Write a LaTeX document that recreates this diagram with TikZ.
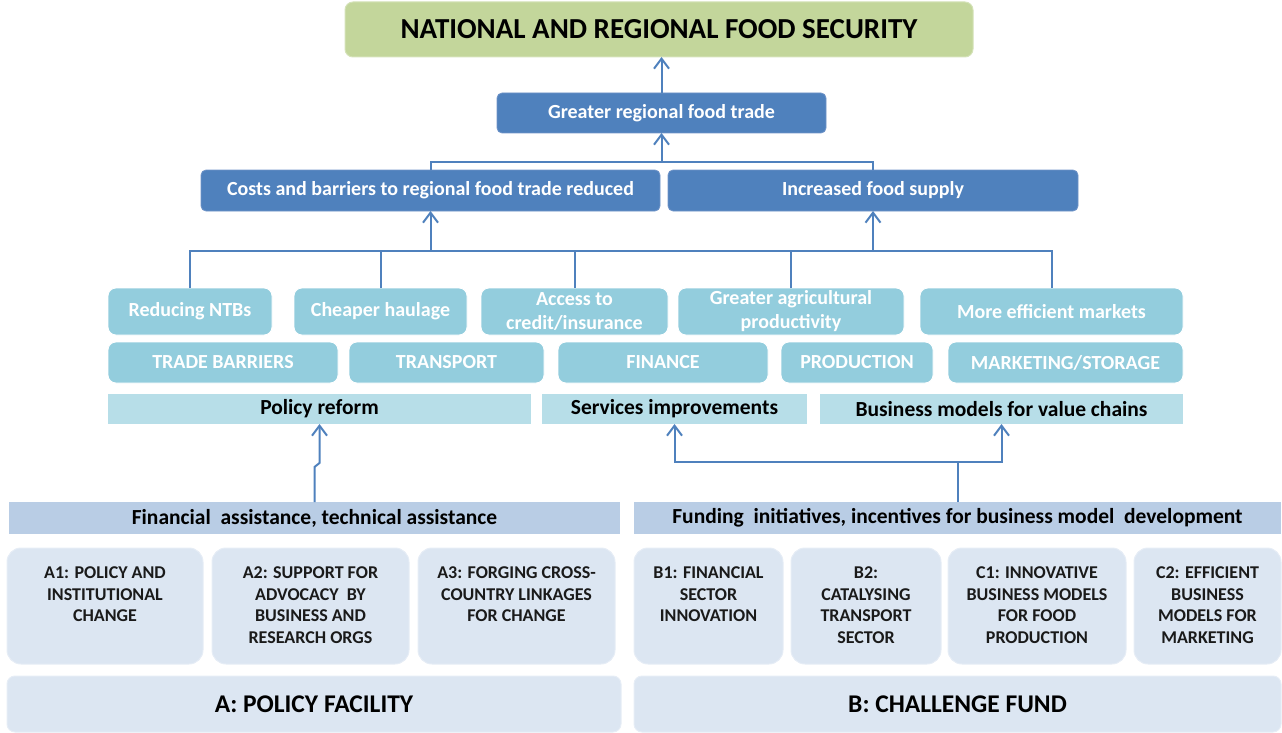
\documentclass[tikz,border=0pt]{standalone}
\usepackage{fontspec}
\setmainfont{Carlito}
\usetikzlibrary{arrows.meta}
\definecolor{dblue}{HTML}{4F81BD}
\definecolor{dbluebd}{HTML}{7094C8}
\definecolor{tealf}{HTML}{93CDDD}
\definecolor{pillf}{HTML}{B7DEE8}
\definecolor{barf}{HTML}{B9CDE5}
\definecolor{actf}{HTML}{DCE6F2}
\definecolor{actbd}{HTML}{E6EDF6}
\definecolor{greenf}{HTML}{C3D69B}
\definecolor{greenbd}{HTML}{D4E2B8}
\definecolor{conncol}{HTML}{4F81BD}
\definecolor{acttxt}{HTML}{1A1A1A}
\tikzset{
  base/.style={inner sep=0pt, outer sep=0pt, align=center, font=\bfseries},
  titlebox/.style={base, fill=greenf, draw=greenbd, line width=1pt, rounded corners=8pt,
    font=\fontsize{29}{33}\selectfont\bfseries},
  bluebox/.style={base, fill=dblue, draw=dbluebd, line width=0.8pt, rounded corners=5pt, text=white,
    font=\fontsize{20}{24}\selectfont\bfseries},
  outbox/.style={base, fill=tealf, draw=white, line width=0.8pt, rounded corners=8pt, text=white,
    font=\fontsize{20}{24}\selectfont\bfseries},
  catbox/.style={base, fill=tealf, draw=white, line width=0.8pt, rounded corners=8pt, text=white,
    font=\fontsize{20}{24}\selectfont\bfseries},
  pillbox/.style={base, fill=pillf, font=\fontsize{21.5}{24}\selectfont\bfseries},
  barbox/.style={base, fill=barf, font=\fontsize{21.5}{24}\selectfont\bfseries},
  actbox/.style={base, fill=actf, draw=actbd, line width=1pt, rounded corners=14pt},
  acttext/.style={base, anchor=north, text=acttxt, font=\fontsize{18}{21.5}\selectfont\bfseries},
  fundbox/.style={base, fill=actf, draw=actbd, line width=1pt, rounded corners=8pt,
    font=\fontsize{25.5}{29}\selectfont\bfseries},
  conn/.style={draw=conncol, line width=2pt},
  arr/.style={conn, -{Straight Barb[length=10pt,width=15pt,line width=2pt]}},
}
\begin{document}
\begin{tikzpicture}[x=1pt,y=-1pt]
\useasboundingbox (0,0) rectangle (1282,733);

% top
\node[titlebox, minimum width=628pt, minimum height=55pt] (title) at (659,29.5) {NATIONAL AND REGIONAL FOOD SECURITY};
\node[bluebox, minimum width=329pt, minimum height=40pt] (trade) at (661.5,113) {Greater regional food trade};
\node[bluebox, minimum width=459pt, minimum height=41pt] (costs) at (430.5,190.5) {Costs and barriers to regional food trade reduced};
\node[bluebox, minimum width=410pt, minimum height=41pt] (supply) at (873,190.5) {Increased food supply};

% outcomes
\node[outbox, minimum width=164pt, minimum height=47pt] (ntb) at (190,311.5) {Reducing NTBs};
\node[outbox, minimum width=173pt, minimum height=47pt] (haul) at (380.5,311.5) {Cheaper haulage};
\node[outbox, minimum width=187pt, minimum height=47pt] (credit) at (574.5,311.5) {Access to\\credit/insurance};
\node[outbox, minimum width=226pt, minimum height=47pt] (agri) at (791,311.5) {Greater agricultural\\productivity};
\node[outbox, minimum width=263pt, minimum height=47pt] (mkt) at (1051.5,311.5) {More efficient markets};

% categories
\node[catbox, minimum width=230pt, minimum height=41pt] (tb) at (223,362.5) {TRADE BARRIERS};
\node[catbox, minimum width=195pt, minimum height=41pt] (tr) at (446.5,362.5) {TRANSPORT};
\node[catbox, minimum width=210pt, minimum height=41pt] (fin) at (663,362.5) {FINANCE};
\node[catbox, minimum width=152pt, minimum height=41pt] (prod) at (857,362.5) {PRODUCTION};
\node[catbox, minimum width=235pt, minimum height=41pt] (ms) at (1065.5,362.5) {MARKETING/STORAGE};

% pillars
\node[pillbox, minimum width=423pt, minimum height=30pt] (pol) at (319.5,409) {Policy reform};
\node[pillbox, minimum width=265pt, minimum height=30pt] (svc) at (674.5,409) {Services improvements};
\node[pillbox, minimum width=363pt, minimum height=30pt] (bm) at (1001.5,409) {Business models for value chains};

% bars
\node[barbox, minimum width=611pt, minimum height=32pt] (fa) at (314.5,518) {Financial\ \ assistance, technical assistance};
\node[barbox, minimum width=647pt, minimum height=32pt] (fu) at (957.5,518) {Funding\ \ initiatives, incentives for business model\ \ development};

% activities
\node[actbox, minimum width=196pt, minimum height=116pt] (a1) at (105,606) {};
\node[actbox, minimum width=197pt, minimum height=116pt] (a2) at (310.5,606) {};
\node[actbox, minimum width=197pt, minimum height=116pt] (a3) at (516.5,606) {};
\node[actbox, minimum width=149pt, minimum height=116pt] (b1) at (708.5,606) {};
\node[actbox, minimum width=150pt, minimum height=116pt] (b2) at (866,606) {};
\node[actbox, minimum width=178pt, minimum height=116pt] (c1) at (1037,606) {};
\node[actbox, minimum width=147pt, minimum height=116pt] (c2) at (1207.5,606) {};

\node[acttext] (a1t) at ([yshift=-19pt]a1.north) {A1: POLICY AND\\INSTITUTIONAL\\CHANGE};
\node[acttext] (a2t) at ([yshift=-19pt]a2.north) {A2: SUPPORT FOR\\ADVOCACY\ \ BY\\BUSINESS AND\\RESEARCH ORGS};
\node[acttext] (a3t) at ([yshift=-19pt]a3.north) {A3: FORGING CROSS-\\COUNTRY LINKAGES\\FOR CHANGE};
\node[acttext] (b1t) at ([yshift=-19pt]b1.north) {B1: FINANCIAL\\SECTOR\\INNOVATION};
\node[acttext] (b2t) at ([yshift=-19pt]b2.north) {B2:\\CATALYSING\\TRANSPORT\\SECTOR};
\node[acttext] (c1t) at ([yshift=-19pt]c1.north) {C1: INNOVATIVE\\BUSINESS MODELS\\FOR FOOD\\PRODUCTION};
\node[acttext] (c2t) at ([yshift=-19pt]c2.north) {C2: EFFICIENT\\BUSINESS\\MODELS FOR\\MARKETING};

% funds
\node[fundbox, minimum width=614pt, minimum height=56pt] (fa2) at (314,704) {A: POLICY FACILITY};
\node[fundbox, minimum width=647pt, minimum height=56pt] (fb2) at (957.5,704) {B: CHALLENGE FUND};

% connectors
\coordinate (j1) at (661.5,162);
\coordinate (bus) at (0,251);
\coordinate (k1) at (0,467);
\coordinate (k2) at (0,463);
\coordinate (k3) at (0,462);

\draw[arr] (trade.north) -- (trade.north |- title.south);
\draw[conn] (costs.north) |- (j1) -| (supply.north);
\draw[arr] (j1) -- (trade.south);

\draw[conn] (ntb.north) -- (ntb.north |- bus) -- (mkt.north |- bus) -- (mkt.north);
\draw[conn] (haul.north) -- (haul.north |- bus);
\draw[conn] (credit.north) -- (credit.north |- bus);
\draw[conn] (agri.north) -- (agri.north |- bus);
\draw[arr] (costs.south |- bus) -- (costs.south);
\draw[arr] (supply.south |- bus) -- (supply.south);

\draw[arr] (fa.north) -- (fa.north |- k1) -- (pol.south |- k2) -- (pol.south);

\draw[conn] (fu.north) -- (fu.north |- k3);
\draw[arr] (fu.north |- k3) -| (svc.south);
\draw[arr] (fu.north |- k3) -| (bm.south);
\end{tikzpicture}
\end{document}
